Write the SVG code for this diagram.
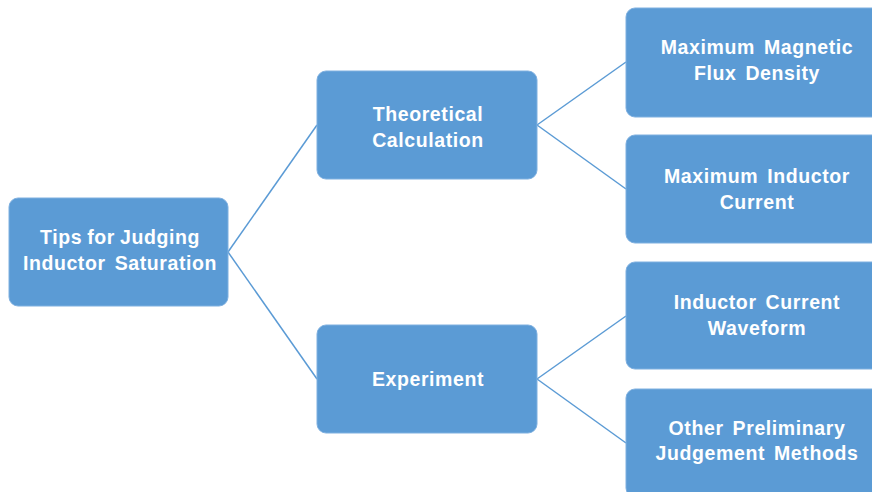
<svg xmlns="http://www.w3.org/2000/svg" width="872" height="492" viewBox="0 0 872 492">
<style>
.box{fill:#5B9BD5;stroke:#7FB0E0;stroke-width:1}
.lbl{font-family:"Liberation Sans",Arial,sans-serif;font-weight:bold;font-size:19.5px;fill:#FFFFFF;text-anchor:middle;letter-spacing:0.6px;word-spacing:3px}
.tight{word-spacing:-1px}
.conn{stroke:#5B9BD5;stroke-width:1.5;fill:none}
</style>
<rect width="872" height="492" fill="#FFFFFF"/>
<g id="connectors">
<line class="conn" x1="228" y1="252" x2="317" y2="125"/>
<line class="conn" x1="228" y1="252" x2="317" y2="379"/>
<line class="conn" x1="537" y1="125" x2="626" y2="62"/>
<line class="conn" x1="537" y1="125" x2="626" y2="189"/>
<line class="conn" x1="537" y1="379" x2="626" y2="316"/>
<line class="conn" x1="537" y1="379" x2="626" y2="443"/>
</g>
<g id="root">
<rect class="box" x="9" y="198" width="219" height="108" rx="9"/>
<text class="lbl tight" x="120" y="244">Tips for Judging</text>
<text class="lbl" x="120" y="270">Inductor Saturation</text>
</g>
<g id="theoretical">
<rect class="box" x="317" y="71" width="220" height="108" rx="9"/>
<text class="lbl" x="428" y="121">Theoretical</text>
<text class="lbl" x="428" y="147">Calculation</text>
</g>
<g id="experiment">
<rect class="box" x="317" y="325" width="220" height="108" rx="9"/>
<text class="lbl" x="428" y="386">Experiment</text>
</g>
<g id="flux">
<rect class="box" x="626" y="8" width="270" height="109" rx="9"/>
<text class="lbl" x="757" y="54">Maximum Magnetic</text>
<text class="lbl" x="757" y="80">Flux Density</text>
</g>
<g id="current">
<rect class="box" x="626" y="135" width="270" height="108" rx="9"/>
<text class="lbl" x="757" y="183">Maximum Inductor</text>
<text class="lbl" x="757" y="209">Current</text>
</g>
<g id="waveform">
<rect class="box" x="626" y="262" width="270" height="107" rx="9"/>
<text class="lbl" x="757" y="309">Inductor Current</text>
<text class="lbl" x="757" y="335">Waveform</text>
</g>
<g id="other">
<rect class="box" x="626" y="389" width="270" height="108" rx="9"/>
<text class="lbl" x="757" y="435">Other Preliminary</text>
<text class="lbl" x="757" y="460">Judgement Methods</text>
</g>
</svg>
